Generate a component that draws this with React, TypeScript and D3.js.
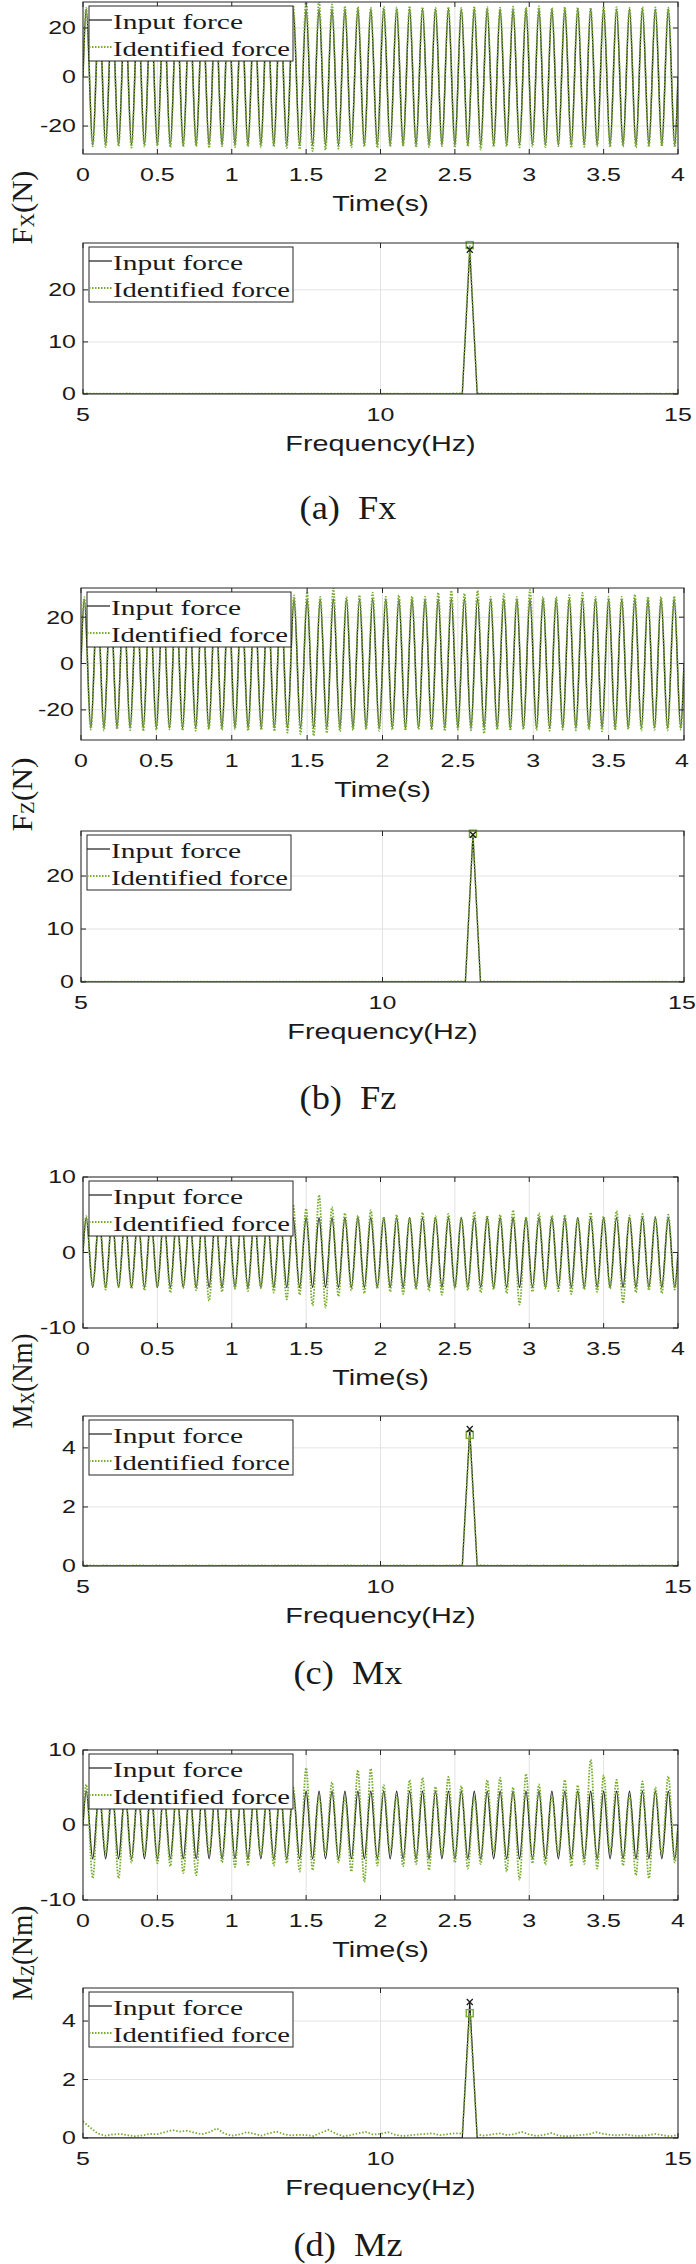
import React from "react";
import * as d3 from "d3";

// ---------------- data ----------------
const F0 = 11.5; // excitation frequency (Hz)
const T_END = 4;
const timeTicks = [0, 0.5, 1, 1.5, 2, 2.5, 3, 3.5, 4];
const timeTickLabels = ["0", "0.5", "1", "1.5", "2", "2.5", "3", "3.5", "4"];
const freqTicks = [5, 10, 15];
const freqTickLabels = ["5", "10", "15"];
const FREQ_START = 5;
const FREQ_STEP = 0.125;
const legendLabels = ["Input force", "Identified force"];
const captions = ["(a)\u00A0\u00A0Fx", "(b)\u00A0\u00A0Fz", "(c)\u00A0\u00A0Mx", "(d)\u00A0\u00A0Mz"];

// peaks / troughs of each cycle (time series)
const fxInPeaks = [27.7,27.7,27.7,27.7,27.7,27.7,27.7,27.7,27.7,27.7,27.7,27.7,27.7,27.7,27.7,27.7,27.7,27.7,27.7,27.7,27.7,27.7,27.7,27.7,27.7,27.7,27.7,27.7,27.7,27.7,27.7,27.7,27.7,27.7,27.7,27.7,27.7,27.7,27.7,27.7,27.7,27.7,27.7,27.7,27.7,27.7];
const fxInTroughs = [-27.7,-27.7,-27.7,-27.7,-27.7,-27.7,-27.7,-27.7,-27.7,-27.7,-27.7,-27.7,-27.7,-27.7,-27.7,-27.7,-27.7,-27.7,-27.7,-27.7,-27.7,-27.7,-27.7,-27.7,-27.7,-27.7,-27.7,-27.7,-27.7,-27.7,-27.7,-27.7,-27.7,-27.7,-27.7,-27.7,-27.7,-27.7,-27.7,-27.7,-27.7,-27.7,-27.7,-27.7,-27.7,-27.7];
const fxIdPeaks = [28.2,28.4,28.1,28.5,28.3,28.0,28.6,28.2,28.4,28.1,
  28.5,28.3,28.2,28.6,28.4,28.8,29.2,31.6,31.2,29.6,
  28.9,28.6,28.3,28.7,28.4,28.9,28.5,28.3,28.6,28.2,
  28.8,28.5,28.3,28.7,28.4,28.9,28.2,28.6,28.4,28.3,
  28.7,28.5,28.2,28.6,28.4,28.3];
const fxIdTroughs = [-28.3,-28.6,-28.2,-28.8,-28.4,-28.1,-28.7,-28.5,-28.3,-28.9,
  -28.2,-28.6,-28.4,-28.7,-28.5,-29.0,-29.5,-30.2,-29.8,-29.2,
  -28.7,-28.4,-28.9,-28.5,-28.3,-28.7,-28.6,-28.2,-28.8,-28.4,
  -29.6,-28.5,-28.3,-28.7,-28.4,-28.6,-28.2,-28.9,-28.5,-28.3,
  -28.6,-28.4,-28.8,-28.5,-28.3,-28.6];

const fzInPeaks = [27.8,27.8,27.8,27.8,27.8,27.8,27.8,27.8,27.8,27.8,27.8,27.8,27.8,27.8,27.8,27.8,27.8,27.8,27.8,27.8,27.8,27.8,27.8,27.8,27.8,27.8,27.8,27.8,27.8,27.8,27.8,27.8,27.8,27.8,27.8,27.8,27.8,27.8,27.8,27.8,27.8,27.8,27.8,27.8,27.8,27.8];
const fzInTroughs = [-27.8,-27.8,-27.8,-27.8,-27.8,-27.8,-27.8,-27.8,-27.8,-27.8,-27.8,-27.8,-27.8,-27.8,-27.8,-27.8,-27.8,-27.8,-27.8,-27.8,-27.8,-27.8,-27.8,-27.8,-27.8,-27.8,-27.8,-27.8,-27.8,-27.8,-27.8,-27.8,-27.8,-27.8,-27.8,-27.8,-27.8,-27.8,-27.8,-27.8,-27.8,-27.8,-27.8,-27.8,-27.8,-27.8];
const fzIdPeaks = [28.6,28.9,28.4,28.7,29.0,28.5,28.8,28.6,28.3,28.9,
  28.5,28.7,28.4,28.8,28.6,29.0,29.4,30.9,28.8,32.5,
  28.8,29.5,30.6,28.8,29.5,29.0,28.8,30.6,31.5,30.2,
  31.5,28.8,30.0,28.8,31.8,28.8,28.8,29.5,30.5,28.8,
  28.8,28.8,29.8,28.8,28.8,29.0];
const fzIdTroughs = [-28.5,-28.9,-28.3,-28.7,-29.1,-28.6,-28.4,-28.8,-29.0,-28.5,
  -28.7,-28.3,-28.9,-28.6,-29.2,-29.8,-30.4,-31.2,-30.0,-29.3,
  -28.8,-28.5,-29.0,-28.6,-28.9,-28.4,-28.7,-29.1,-28.5,-28.8,
  -30.2,-28.6,-28.9,-28.4,-28.7,-29.0,-28.5,-28.8,-28.6,-29.3,
  -28.7,-28.4,-28.9,-28.6,-28.8,-28.5];

const mxInPeaks = [4.6,4.6,4.6,4.6,4.6,4.6,4.6,4.6,4.6,4.6,4.6,4.6,4.6,4.6,4.6,4.6,4.6,4.6,4.6,4.6,4.6,4.6,4.6,4.6,4.6,4.6,4.6,4.6,4.6,4.6,4.6,4.6,4.6,4.6,4.6,4.6,4.6,4.6,4.6,4.6,4.6,4.6,4.6,4.6,4.6,4.6];
const mxInTroughs = [-4.6,-4.6,-4.6,-4.6,-4.6,-4.6,-4.6,-4.6,-4.6,-4.6,-4.6,-4.6,-4.6,-4.6,-4.6,-4.6,-4.6,-4.6,-4.6,-4.6,-4.6,-4.6,-4.6,-4.6,-4.6,-4.6,-4.6,-4.6,-4.6,-4.6,-4.6,-4.6,-4.6,-4.6,-4.6,-4.6,-4.6,-4.6,-4.6,-4.6,-4.6,-4.6,-4.6,-4.6,-4.6,-4.6];
const mxIdPeaks = [4.8,4.6,4.9,4.7,5.0,4.6,4.8,4.7,4.9,4.6,
  5.1,4.8,4.7,5.0,4.9,5.3,6.3,5.8,7.6,6.0,
  5.2,4.9,5.6,4.7,5.0,4.6,5.3,4.8,5.1,4.6,
  5.4,4.9,5.0,5.6,4.7,5.2,4.9,5.0,4.6,5.3,
  4.8,5.5,4.9,5.1,4.7,5.0];
const mxIdTroughs = [-4.4,-4.9,-4.6,-4.8,-5.0,-4.6,-5.3,-4.7,-5.0,-6.4,
  -5.2,-4.8,-5.1,-4.7,-5.3,-6.2,-5.6,-7.0,-7.3,-5.8,
  -5.0,-5.4,-4.8,-5.2,-5.5,-4.9,-5.1,-5.6,-4.8,-5.0,
  -5.3,-4.9,-5.4,-6.9,-5.2,-4.8,-5.1,-5.5,-4.9,-5.2,
  -4.8,-6.7,-5.3,-5.0,-5.4,-4.9];

const mzInPeaks = [4.5,4.5,4.5,4.5,4.5,4.5,4.5,4.5,4.5,4.5,4.5,4.5,4.5,4.5,4.5,4.5,4.5,4.5,4.5,4.5,4.5,4.5,4.5,4.5,4.5,4.5,4.5,4.5,4.5,4.5,4.5,4.5,4.5,4.5,4.5,4.5,4.5,4.5,4.5,4.5,4.5,4.5,4.5,4.5,4.5,4.5];
const mzInTroughs = [-4.5,-4.5,-4.5,-4.5,-4.5,-4.5,-4.5,-4.5,-4.5,-4.5,-4.5,-4.5,-4.5,-4.5,-4.5,-4.5,-4.5,-4.5,-4.5,-4.5,-4.5,-4.5,-4.5,-4.5,-4.5,-4.5,-4.5,-4.5,-4.5,-4.5,-4.5,-4.5,-4.5,-4.5,-4.5,-4.5,-4.5,-4.5,-4.5,-4.5,-4.5,-4.5,-4.5,-4.5,-4.5,-4.5];
const mzIdPeaks = [5.4,5.0,5.8,4.6,5.2,6.1,4.9,5.5,4.4,5.7,
  5.0,4.7,5.9,5.1,4.8,5.6,5.0,7.6,3.8,5.7,
  3.6,7.3,7.5,5.3,3.9,6.0,6.3,5.1,6.4,5.2,
  3.7,6.0,6.3,5.0,6.8,5.4,3.8,6.0,5.3,8.7,
  6.6,6.0,3.9,5.8,5.0,6.5];
const mzIdTroughs = [-7.1,-3.8,-7.1,-5.0,-3.9,-5.1,-5.5,-6.4,-6.7,-3.7,
  -5.0,-5.6,-5.3,-4.0,-5.4,-5.1,-6.2,-6.0,-3.8,-5.0,
  -6.2,-7.6,-5.4,-3.6,-5.5,-5.2,-6.0,-3.9,-5.0,-5.8,
  -5.2,-3.7,-6.2,-7.3,-5.1,-5.3,-3.8,-5.5,-5.2,-5.8,
  -3.6,-5.4,-6.7,-7.1,-3.9,-5.0];

// amplitude spectra, 5..15 Hz every 0.125 Hz (81 values)
const fxSpecIn = [0,0,0,0,0,0,0,0,0,0, 0,0,0,0,0,0,0,0,0,0, 0,0,0,0,0,0,0,0,0,0, 0,0,0,0,0,0,0,0,0,0,
  0,0,0,0,0,0,0,0,0,0, 0,0,27.7,0,0,0,0,0,0,0, 0,0,0,0,0,0,0,0,0,0, 0,0,0,0,0,0,0,0,0,0, 0];
const fxSpecId = [0.15,0.09,0.06,0.08,0.05,0.07,0.10,0.06,0.04,0.08, 0.06,0.09,0.05,0.07,0.04,0.06,0.08,0.05,0.07,0.04,
  0.06,0.08,0.05,0.04,0.07,0.05,0.06,0.09,0.05,0.04, 0.07,0.05,0.06,0.04,0.08,0.05,0.06,0.04,0.07,0.05,
  0.06,0.08,0.05,0.04,0.06,0.05,0.07,0.06,0.05,0.08, 0.10,0.15,28.6,0.14,0.09,0.06,0.05,0.07,0.04,0.06,
  0.05,0.07,0.04,0.06,0.05,0.04,0.06,0.05,0.07,0.04, 0.05,0.06,0.04,0.05,0.07,0.04,0.05,0.06,0.04,0.05, 0.06];
const fzSpecIn = [0,0,0,0,0,0,0,0,0,0, 0,0,0,0,0,0,0,0,0,0, 0,0,0,0,0,0,0,0,0,0, 0,0,0,0,0,0,0,0,0,0,
  0,0,0,0,0,0,0,0,0,0, 0,0,27.8,0,0,0,0,0,0,0, 0,0,0,0,0,0,0,0,0,0, 0,0,0,0,0,0,0,0,0,0, 0];
const fzSpecId = [0.12,0.08,0.05,0.07,0.06,0.04,0.08,0.05,0.06,0.07, 0.05,0.08,0.04,0.06,0.05,0.07,0.06,0.04,0.08,0.05,
  0.06,0.05,0.07,0.04,0.06,0.08,0.05,0.06,0.04,0.07, 0.05,0.06,0.08,0.04,0.05,0.07,0.06,0.05,0.04,0.06,
  0.07,0.05,0.06,0.04,0.08,0.05,0.06,0.07,0.05,0.09, 0.11,0.14,28.0,0.13,0.08,0.06,0.05,0.07,0.04,0.06,
  0.05,0.06,0.04,0.07,0.05,0.04,0.06,0.05,0.06,0.04, 0.05,0.07,0.04,0.05,0.06,0.04,0.05,0.06,0.04,0.05, 0.05];
const mxSpecIn = [0,0,0,0,0,0,0,0,0,0, 0,0,0,0,0,0,0,0,0,0, 0,0,0,0,0,0,0,0,0,0, 0,0,0,0,0,0,0,0,0,0,
  0,0,0,0,0,0,0,0,0,0, 0,0,4.64,0,0,0,0,0,0,0, 0,0,0,0,0,0,0,0,0,0, 0,0,0,0,0,0,0,0,0,0, 0];
const mxSpecId = [0.03,0.02,0.01,0.02,0.01,0.02,0.01,0.02,0.02,0.01, 0.02,0.01,0.02,0.01,0.02,0.02,0.01,0.02,0.01,0.02,
  0.01,0.02,0.02,0.01,0.02,0.01,0.02,0.01,0.02,0.02, 0.01,0.02,0.01,0.02,0.01,0.02,0.02,0.01,0.02,0.01,
  0.02,0.01,0.02,0.02,0.01,0.02,0.01,0.02,0.01,0.02, 0.02,0.03,4.44,0.03,0.02,0.01,0.02,0.01,0.02,0.01,
  0.02,0.01,0.02,0.01,0.02,0.02,0.01,0.02,0.01,0.02, 0.01,0.02,0.01,0.02,0.01,0.02,0.01,0.02,0.01,0.02, 0.01];
const mzSpecIn = [0,0,0,0,0,0,0,0,0,0, 0,0,0,0,0,0,0,0,0,0, 0,0,0,0,0,0,0,0,0,0, 0,0,0,0,0,0,0,0,0,0,
  0,0,0,0,0,0,0,0,0,0, 0,0,4.65,0,0,0,0,0,0,0, 0,0,0,0,0,0,0,0,0,0, 0,0,0,0,0,0,0,0,0,0, 0];
const mzSpecId = [0.57,0.35,0.15,0.08,0.12,0.14,0.10,0.06,0.09,0.14,
  0.13,0.20,0.27,0.22,0.25,0.18,0.13,0.20,0.33,0.15,
  0.08,0.12,0.20,0.14,0.08,0.16,0.22,0.13,0.09,0.11,
  0.10,0.07,0.18,0.28,0.15,0.06,0.10,0.16,0.21,0.12,
  0.14,0.20,0.11,0.07,0.09,0.12,0.14,0.16,0.10,0.13,
  0.16,0.15,4.27,0.12,0.08,0.12,0.16,0.10,0.13,0.21,
  0.12,0.07,0.11,0.17,0.08,0.06,0.08,0.10,0.13,0.20,
  0.14,0.10,0.09,0.12,0.08,0.07,0.10,0.14,0.09,0.06,
  0.10];

// ---------------- styling / layout ----------------
const SANS = "'Liberation Sans', Arial, sans-serif";
const SERIF = "'Liberation Serif', 'Times New Roman', serif";
const BLACK = "#1c1c1c";
const GREEN = "#77AC30";
const AXIS = "#262626";
const GRID = "#e3e3e3";
const TICK_SX = 1.35;
const LABEL_SX = 1.28;

type Panel = {
  ylab: [string, string, string];
  left: number; right: number;
  tTop: number; tBottom: number; tDomain: [number, number]; tYTicks: number[];
  fTop: number; fBottom: number; fDomain: [number, number]; fYTicks: number[];
  captionY: number; ylabLen: number;
  inP: number[]; inT: number[]; idP: number[]; idT: number[]; sIn: number[]; sId: number[];
};

const panels: Panel[] = [
  { ylab: ["F", "X", "(N)"], left: 83, right: 678, tTop: 2, tBottom: 154, tDomain: [-31.4, 30.6], tYTicks: [-20, 0, 20],
    fTop: 243, fBottom: 394, fDomain: [0, 29], fYTicks: [0, 10, 20], captionY: 508, ylabLen: 74,
    inP: fxInPeaks, inT: fxInTroughs, idP: fxIdPeaks, idT: fxIdTroughs, sIn: fxSpecIn, sId: fxSpecId },
  { ylab: ["F", "Z", "(N)"], left: 81, right: 684, tTop: 588, tBottom: 740, tDomain: [-33, 32.6], tYTicks: [-20, 0, 20],
    fTop: 831, fBottom: 982, fDomain: [0, 28.5], fYTicks: [0, 10, 20], captionY: 1098, ylabLen: 74,
    inP: fzInPeaks, inT: fzInTroughs, idP: fzIdPeaks, idT: fzIdTroughs, sIn: fzSpecIn, sId: fzSpecId },
  { ylab: ["M", "X", "(Nm)"], left: 83, right: 678, tTop: 1177, tBottom: 1328, tDomain: [-10, 10], tYTicks: [-10, 0, 10],
    fTop: 1416, fBottom: 1566, fDomain: [0, 5.08], fYTicks: [0, 2, 4], captionY: 1673, ylabLen: 95,
    inP: mxInPeaks, inT: mxInTroughs, idP: mxIdPeaks, idT: mxIdTroughs, sIn: mxSpecIn, sId: mxSpecId },
  { ylab: ["M", "Z", "(Nm)"], left: 83, right: 678, tTop: 1750, tBottom: 1900, tDomain: [-10, 10], tYTicks: [-10, 0, 10],
    fTop: 1988, fBottom: 2138, fDomain: [0, 5.13], fYTicks: [0, 2, 4], captionY: 2245, ylabLen: 95,
    inP: mzInPeaks, inT: mzInTroughs, idP: mzIdPeaks, idT: mzIdTroughs, sIn: mzSpecIn, sId: mzSpecId },
];

function buildSeries(peaks: number[], troughs: number[]): [number, number][] {
  const out: [number, number][] = [[0, 0]];
  for (let j = 0; j < peaks.length; j++) {
    out.push([(4 * j + 1) / (4 * F0), peaks[j]]);
    out.push([(4 * j + 3) / (4 * F0), troughs[j]]);
  }
  out.push([T_END, 0]);
  return out;
}

function HText(props: any) {
  const { x, y, size, family, anchor = "middle", sx = 1, children, length } = props;
  return (
    <text transform={`translate(${x},${y}) scale(${sx},1)`} fontSize={size} fontFamily={family}
      textAnchor={anchor} dominantBaseline="central" fill="#1a1a1a"
      textLength={length} lengthAdjust={length ? "spacingAndGlyphs" : undefined}>
      {children}
    </text>
  );
}

function Axes(props: any) {
  const { xs, ys, xTicks, xLabels, yTicks, xTitle, clipId, children, markers } = props;
  const [L, R] = xs.range();
  const [B, T] = ys.range();
  const tl = 5;
  return (
    <g>
      <defs>
        <clipPath id={clipId}><rect x={L} y={T} width={R - L} height={B - T} /></clipPath>
      </defs>
      <rect x={L} y={T} width={R - L} height={B - T} fill="white" />
      {xTicks.map((t: number, i: number) => (
        <line key={"gx" + i} x1={xs(t)} x2={xs(t)} y1={T} y2={B} stroke={GRID} strokeWidth={1} />
      ))}
      {yTicks.map((v: number, i: number) => (
        <line key={"gy" + i} x1={L} x2={R} y1={ys(v)} y2={ys(v)} stroke={GRID} strokeWidth={1} />
      ))}
      <g clipPath={`url(#${clipId})`}>{children}</g>
      {markers}
      {xTicks.map((t: number, i: number) => (
        <g key={"tx" + i}>
          <line x1={xs(t)} x2={xs(t)} y1={B} y2={B - tl} stroke={AXIS} />
          <line x1={xs(t)} x2={xs(t)} y1={T} y2={T + tl} stroke={AXIS} />
        </g>
      ))}
      {yTicks.map((v: number, i: number) => (
        <g key={"ty" + i}>
          <line x1={L} x2={L + tl} y1={ys(v)} y2={ys(v)} stroke={AXIS} />
          <line x1={R} x2={R - tl} y1={ys(v)} y2={ys(v)} stroke={AXIS} />
        </g>
      ))}
      <rect x={L} y={T} width={R - L} height={B - T} fill="none" stroke={AXIS} strokeWidth={1} />
      {xTicks.map((t: number, i: number) => (
        <HText key={"lx" + i} x={Math.min(xs(t), 682)} y={B + 21} size={18.5} family={SANS} sx={TICK_SX}>{xLabels[i]}</HText>
      ))}
      {yTicks.map((v: number, i: number) => (
        <HText key={"ly" + i} x={L - 7} y={ys(v)} size={18.5} family={SANS} sx={TICK_SX} anchor="end">{String(v)}</HText>
      ))}
      <HText x={(L + R) / 2} y={B + 49} size={22.5} family={SANS} sx={LABEL_SX}>{xTitle}</HText>
      {/* legend */}
      <rect x={L + 6} y={T + 4} width={204} height={55} fill="white" stroke={AXIS} strokeWidth={1} />
      <line x1={L + 6} x2={L + 29} y1={T + 18} y2={T + 18} stroke={BLACK} strokeWidth={1.2} />
      <line x1={L + 6} x2={L + 29} y1={T + 45} y2={T + 45} stroke={GREEN} strokeWidth={1.8} strokeDasharray="1.5 1.5" />
      <HText x={L + 30} y={T + 19} size={22} family={SERIF} anchor="start" length={130}>{legendLabels[0]}</HText>
      <HText x={L + 30} y={T + 46} size={22} family={SERIF} anchor="start" length={177}>{legendLabels[1]}</HText>
    </g>
  );
}

function PanelView({ p, idx }: { p: Panel; idx: number }) {
  const xt = d3.scaleLinear().domain([0, T_END]).range([p.left, p.right]);
  const yt = d3.scaleLinear().domain(p.tDomain).range([p.tBottom, p.tTop]);
  const xf = d3.scaleLinear().domain([5, 15]).range([p.left, p.right]);
  const yf = d3.scaleLinear().domain(p.fDomain).range([p.fBottom, p.fTop]);

  const tLine = d3.line<[number, number]>().x(d => xt(d[0])).y(d => yt(d[1])).curve(d3.curveMonotoneX);
  const inSeries = buildSeries(p.inP, p.inT);
  const idSeries = buildSeries(p.idP, p.idT);

  const fLine = d3.line<[number, number]>().x(d => xf(d[0])).y(d => yf(d[1]));
  const sIn: [number, number][] = p.sIn.map((v, i) => [FREQ_START + i * FREQ_STEP, v]);
  const sId: [number, number][] = p.sId.map((v, i) => [FREQ_START + i * FREQ_STEP, v]);
  const pIn = sIn[d3.maxIndex(sIn, d => d[1])];
  const pId = sId[d3.maxIndex(sId, d => d[1])];
  const mx = xf(pIn[0]), my = yf(pIn[1]);
  const sx = xf(pId[0]), sy = yf(pId[1]);

  const ylabCenter = (p.tBottom + p.fTop) / 2 + 9;

  return (
    <g>
      <Axes xs={xt} ys={yt} xTicks={timeTicks} xLabels={timeTickLabels} yTicks={p.tYTicks}
        xTitle="Time(s)" clipId={"ct" + idx}>
        <path d={tLine(inSeries) || ""} fill="none" stroke={BLACK} strokeWidth={1.4} />
        <path d={tLine(idSeries) || ""} fill="none" stroke={GREEN} strokeWidth={1.8} strokeDasharray="1.6 1.4" />
      </Axes>
      <Axes xs={xf} ys={yf} xTicks={freqTicks} xLabels={freqTickLabels} yTicks={p.fYTicks}
        xTitle="Frequency(Hz)" clipId={"cf" + idx}
        markers={
          <g>
            <rect x={sx - 3.5} y={sy - 3.5} width={7} height={7} fill="none" stroke={GREEN} strokeWidth={1.4} />
            <path d={`M${mx - 3},${my - 3}L${mx + 3},${my + 3}M${mx - 3},${my + 3}L${mx + 3},${my - 3}`} stroke={BLACK} strokeWidth={1.3} />
          </g>
        }>
        <path d={fLine(sIn) || ""} fill="none" stroke={BLACK} strokeWidth={1.2} />
        <path d={fLine(sId) || ""} fill="none" stroke={GREEN} strokeWidth={1.8} strokeDasharray="1.5 1.8" />
      </Axes>
      <text transform={`translate(22,${ylabCenter}) rotate(-90) scale(1,1.25)`} fontFamily={SERIF} fontSize={23}
        textAnchor="middle" dominantBaseline="central" fill="#1a1a1a" textLength={p.ylabLen} lengthAdjust="spacingAndGlyphs">
        <tspan>{p.ylab[0]}</tspan>
        <tspan fontSize={15} dy={4}>{p.ylab[1]}</tspan>
        <tspan dy={-4}>{p.ylab[2]}</tspan>
      </text>
      <HText x={348} y={p.captionY} size={34} family={SERIF} sx={1.07}>{captions[idx]}</HText>
    </g>
  );
}

export default function App() {
  return (
    <svg width={696} height={2264} viewBox="0 0 696 2264"
      style={{ position: "absolute", left: 0, top: 0, background: "white" }}>
      <rect x={0} y={0} width={696} height={2264} fill="white" />
      {panels.map((p, i) => <PanelView key={i} p={p} idx={i} />)}
    </svg>
  );
}
